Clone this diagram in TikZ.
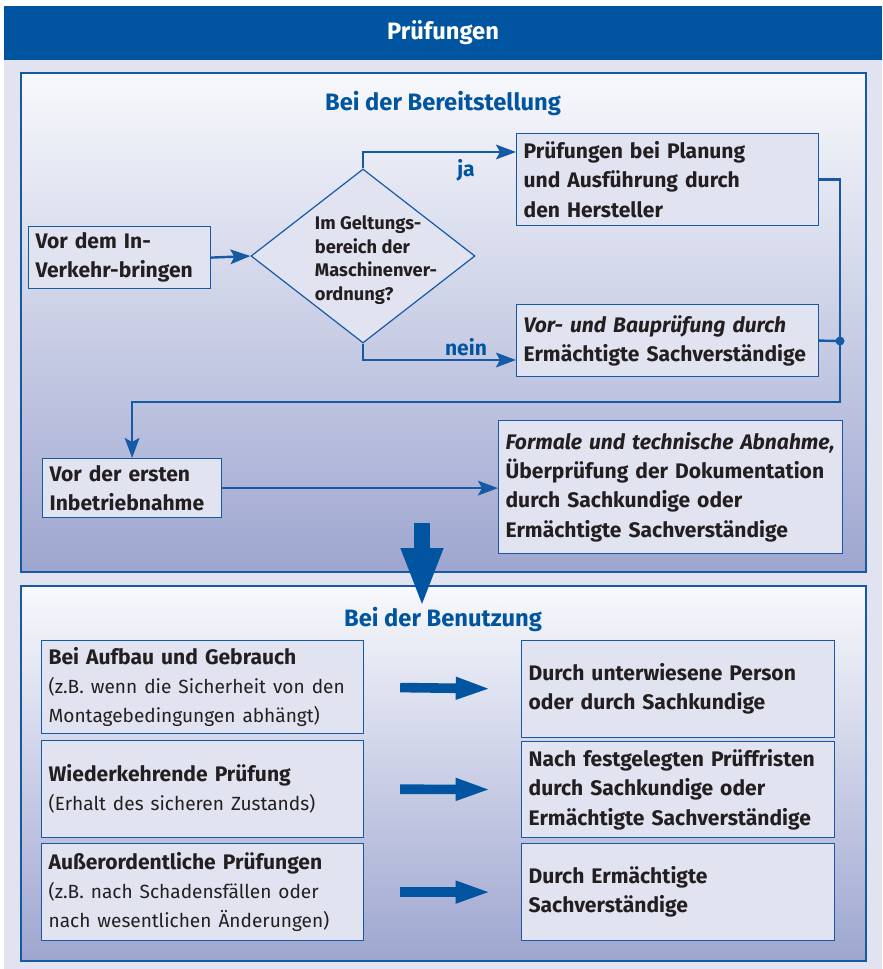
\documentclass[tikz,border=0pt]{standalone}
\usepackage{fontspec}
\setmainfont{Fira Sans}
\usetikzlibrary{shapes.geometric,arrows.meta,positioning}

\definecolor{titleblue}{RGB}{0,84,160}
\definecolor{lineblue}{RGB}{22,90,166}
\definecolor{paleblue}{RGB}{225,227,241}
\definecolor{paneltop}{RGB}{248,249,252}
\definecolor{panelbot}{RGB}{158,166,208}
\definecolor{textdark}{RGB}{35,31,32}

\newcommand\bodyfont{\fontsize{15.8}{22}\selectfont\bfseries}
\newcommand\smallfont{\fontsize{14.3}{22}\selectfont\mdseries}
\newcommand\decfont{\fontsize{13.7}{17.6}\selectfont\bfseries}
\newcommand\headfont{\fontsize{17.8}{20}\selectfont\bfseries}

\tikzset{
  box/.style={draw=lineblue, line width=0.9pt, fill=paleblue, anchor=north west,
    align=left, inner xsep=5.25pt, inner ysep=0pt, font=\bodyfont, text=textdark},
  panel/.style={draw=lineblue, line width=0.9pt, top color=paneltop, bottom color=panelbot},
  conn/.style={draw=lineblue, line width=1.8pt},
  tip/.style={-{Stealth[length=15pt,width=11pt,inset=3pt]}},
  fat/.style={draw=titleblue, line width=7.2pt, -{Triangle[length=27pt,width=15pt]}},
  heading/.style={text=titleblue, font=\headfont},
}

\begin{document}
\begin{tikzpicture}[x=0.75pt,y=-0.75pt]
\useasboundingbox (0,0) rectangle (882,969);
% background and title
\fill[paleblue] (4,60) rectangle (882,969);
\fill[titleblue] (4,6) rectangle (882,60);
\node[text=white, font=\headfont] (title) at (443,33) {Prüfungen};

% panels
\draw[panel] (21,73) rectangle (866,572);
\draw[panel] (21,586) rectangle (866,961);
\node[heading] (hbereit) at (443,104) {Bei der Bereitstellung};
\node[heading] (hbenutz) at (443,620) {Bei der Benutzung};

% Bereitstellung
\node[box, text width=126pt, minimum height=46.5pt] (vor) at (28,226) {Vor dem In-\\Verkehr-bringen};
\node[diamond, draw=lineblue, line width=0.9pt, fill=paleblue, minimum width=168pt,
  minimum height=130.5pt, inner sep=0pt] (dec) at (363,256) {};
\node[font=\decfont, align=left, text=textdark] (dectext) at (376,260)
  {Im Geltungs-\\bereich der\\Maschinenver-\\ordnung?};
\node[box, text width=216pt, minimum height=69pt] (ja) at (516,133)
  {Prüfungen bei Planung\\und Ausführung durch\\den Hersteller};
\node[box, text width=216pt, minimum height=54pt] (nein) at (516,304)
  {{\itshape Vor- und Bauprüfung durch}\\Ermächtigte Sachverständige};
\node[box, text width=123.75pt, minimum height=44.25pt] (erst) at (42,458)
  {Vor der ersten\\Inbetriebnahme};
\node[box, text width=247.5pt, minimum height=99.75pt] (formal) at (498,420)
  {{\itshape Formale und technische Abnahme,}\\Überprüfung der Dokumentation\\durch Sachkundige oder\\Ermächtigte Sachverständige};

\coordinate (jaIn) at (516,152);
\coordinate (neinIn) at (516,360);
\coordinate (jn) at (840,341);
\coordinate (corner) at (840,402);

\draw[conn, tip] (vor.east) -- (dec.west);
\draw[conn, tip] (dec.north) |- (jaIn);
\draw[conn, tip] (dec.south) |- (neinIn);
\node[font=\bodyfont, text=titleblue] (jalbl) at (466,170) {ja};
\node[font=\bodyfont, text=titleblue] (neinlbl) at (466,347) {nein};
\draw[conn, tip] (ja.east) -| (corner) -| (erst.north);
\draw[conn] (nein.east) -- (jn);
\fill[lineblue] (jn) circle (4.5);
\draw[conn, tip] (erst.east) -- (erst.east -| formal.west);

% Benutzung
\node[box, text width=231pt, minimum height=69.75pt] (b1) at (41,640)
  {Bei Aufbau und Gebrauch\\{\smallfont (z.B. wenn die Sicherheit von den}\\{\smallfont Montagebedingungen abhängt)}};
\node[box, text width=231pt, minimum height=72.75pt] (b2) at (41,740)
  {Wiederkehrende Prüfung\\{\smallfont (Erhalt des sicheren Zustands)}};
\node[box, text width=231pt, minimum height=72.75pt] (b3) at (41,843)
  {Außerordentliche Prüfungen\\{\smallfont (z.B. nach Schadensfällen oder}\\{\smallfont nach wesentlichen Änderungen)}};
\node[box, text width=224.25pt, minimum height=72.75pt] (r1) at (521,640)
  {Durch unterwiesene Person\\oder durch Sachkundige};
\node[box, text width=224.25pt, minimum height=72pt] (r2) at (521,741)
  {Nach festgelegten Prüffristen\\durch Sachkundige oder\\Ermächtigte Sachverständige};
\node[box, text width=224.25pt, minimum height=72.75pt] (r3) at (521,843)
  {Durch Ermächtigte\\Sachverständige};
\foreach \i in {1,2,3}
  \draw[fat, shorten <=27pt, shorten >=22pt] (b\i.east) -- (r\i.west);

% big arrow between the panels
\coordinate (bigtop) at (422,523);
\coordinate (bigend) at (422,608);
\draw[draw=titleblue, line width=12pt, -{Triangle[length=45pt,width=28.5pt]}] (bigtop) -- (bigend);
\end{tikzpicture}
\end{document}
